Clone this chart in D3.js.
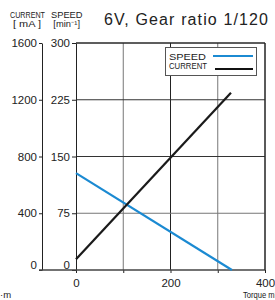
<!DOCTYPE html>
<html>
<head>
<meta charset="utf-8">
<script src="https://cdn.jsdelivr.net/npm/d3@7"></script>
<style>
  body { margin: 0; background: #fff; }
  svg { display: block; font-family: "Liberation Sans", Arial, sans-serif; }
  .tick text { font-size: 11.5px; fill: #222; font-family: "Liberation Sans", Arial, sans-serif; }
</style>
</head>
<body>
<svg id="chart" width="275" height="300"></svg>
<script>
// data
var torque = [0, 328];          // mN·m
var current = [75, 1250];       // mA
var speedTorque = [0, 330];
var speed = [128, 0];           // min-1
var currentTicks = [0, 400, 800, 1200, 1600];
var speedTicks = [0, 75, 150, 225, 300];
var torqueTicks = [0, 100, 200, 300, 400];
var torqueLabels = [0, 200, 400];

var svg = d3.select("#chart");

var x = d3.scaleLinear().domain([0, 400]).range([76, 265]);
var yC = d3.scaleLinear().domain([0, 1600]).range([270, 43]);
var yS = d3.scaleLinear().domain([0, 300]).range([270, 43]);

// grid
var grid = svg.append("g");
grid.selectAll("line.v")
  .data(torqueTicks.slice(1))
  .enter().append("line")
  .attr("x1", function (d) { return x(d); })
  .attr("x2", function (d) { return x(d); })
  .attr("y1", yS(300)).attr("y2", yS(0))
  .attr("stroke", function (d) { return d % 200 === 0 ? "#222" : "#777"; })
  .attr("stroke-width", 1);
grid.selectAll("line.h")
  .data(speedTicks.slice(1))
  .enter().append("line")
  .attr("x1", x(0)).attr("x2", x(400))
  .attr("y1", function (d) { return yS(d); })
  .attr("y2", function (d) { return yS(d); })
  .attr("stroke", function (d) { return d === 75 ? "#777" : "#333"; })
  .attr("stroke-width", 1);

// axes
var axC = svg.append("g")
  .attr("transform", "translate(42,0)")
  .call(d3.axisLeft(yC).tickValues(currentTicks).tickSize(3).tickSizeOuter(0).tickPadding(2)
    .tickFormat(d3.format("d")));
var axS = svg.append("g")
  .attr("transform", "translate(76,0)")
  .call(d3.axisLeft(yS).tickValues(speedTicks).tickSize(4).tickSizeOuter(0).tickPadding(2)
    .tickFormat(d3.format("d")));
[axC, axS].forEach(function (a) {
  a.select(".domain").attr("stroke", "#222");
  a.selectAll(".tick line").attr("stroke", "#222");
  a.selectAll(".tick text").filter(function (d) { return d === 0; }).attr("dy", "-0.15em");
});

var axX = svg.append("g")
  .attr("transform", "translate(0,270)")
  .call(d3.axisBottom(x).tickValues(torqueTicks).tickSize(3).tickSizeOuter(0).tickPadding(6)
    .tickFormat(function (d) { return torqueLabels.indexOf(d) >= 0 ? d : ""; }));
axX.select(".domain").remove();
axX.selectAll(".tick line").attr("stroke", "#222");

svg.append("line")
  .attr("x1", 39).attr("x2", x(400))
  .attr("y1", yS(0)).attr("y2", yS(0))
  .attr("stroke", "#444").attr("stroke-width", 1.3);

// frame top/right
svg.append("line").attr("x1", x(0)).attr("x2", x(400)).attr("y1", yS(300)).attr("y2", yS(300)).attr("stroke", "#222");
svg.append("line").attr("x1", x(400)).attr("x2", x(400)).attr("y1", yS(300)).attr("y2", yS(0)).attr("stroke", "#222");

// data lines
var lineC = d3.line()
  .x(function (d, i) { return x(torque[i]); })
  .y(function (d) { return yC(d); });
var lineS = d3.line()
  .x(function (d, i) { return x(speedTorque[i]); })
  .y(function (d) { return yS(d); });

svg.append("path").datum(speed)
  .attr("d", lineS).attr("fill", "none")
  .attr("stroke", "#1b8ad2").attr("stroke-width", 2.2);
svg.append("path").datum(current)
  .attr("d", lineC).attr("fill", "none")
  .attr("stroke", "#1a1a1a").attr("stroke-width", 2.2);

// legend
var lg = svg.append("g");
lg.append("rect").attr("x", 165.5).attr("y", 47.5).attr("width", 91).attr("height", 28)
  .attr("fill", "#fff").attr("stroke", "#555");
lg.append("text").attr("x", 169).attr("y", 59.5).attr("font-size", 9.5).attr("fill", "#222")
  .attr("textLength", 37).attr("lengthAdjust", "spacingAndGlyphs").text("SPEED");
lg.append("line").attr("x1", 213).attr("x2", 253).attr("y1", 56).attr("y2", 56)
  .attr("stroke", "#1b8ad2").attr("stroke-width", 2);
lg.append("text").attr("x", 169).attr("y", 68.5).attr("font-size", 9).attr("fill", "#222")
  .attr("textLength", 38).attr("lengthAdjust", "spacingAndGlyphs").text("CURRENT");
lg.append("line").attr("x1", 215).attr("x2", 253).attr("y1", 69).attr("y2", 69)
  .attr("stroke", "#111").attr("stroke-width", 2);

// title
svg.append("text").attr("x", 104).attr("y", 25).attr("font-size", 16).attr("fill", "#222")
  .attr("textLength", 164).attr("lengthAdjust", "spacing")
  .text("6V, Gear ratio 1/120");

// axis headers
var hd = svg.append("g").attr("fill", "#222");
hd.append("text").attr("x", 10).attr("y", 18.3).attr("font-size", 8.2)
  .attr("textLength", 35).attr("lengthAdjust", "spacingAndGlyphs").text("CURRENT");
hd.append("text").attr("x", 13).attr("y", 26.7).attr("font-size", 8.2)
  .attr("textLength", 28).attr("lengthAdjust", "spacingAndGlyphs").text("[ mA ]");
hd.append("text").attr("x", 51).attr("y", 18.3).attr("font-size", 8.2)
  .attr("textLength", 31.5).attr("lengthAdjust", "spacingAndGlyphs").text("SPEED");
hd.append("text").attr("x", 53.3).attr("y", 26.7).attr("font-size", 8.2)
  .attr("textLength", 26.7).attr("lengthAdjust", "spacingAndGlyphs").text("[min⁻¹]");

// x label (cut by the right edge, as in the original)
svg.append("text").attr("x", 243).attr("y", 298).attr("font-size", 9.5).attr("fill", "#222")
  .attr("textLength", 46).attr("lengthAdjust", "spacingAndGlyphs").text("Torque mN·m");
svg.append("text").attr("x", 0).attr("y", 298).attr("font-size", 9.5).attr("fill", "#222")
  .text("·m");
</script>
</body>
</html>
